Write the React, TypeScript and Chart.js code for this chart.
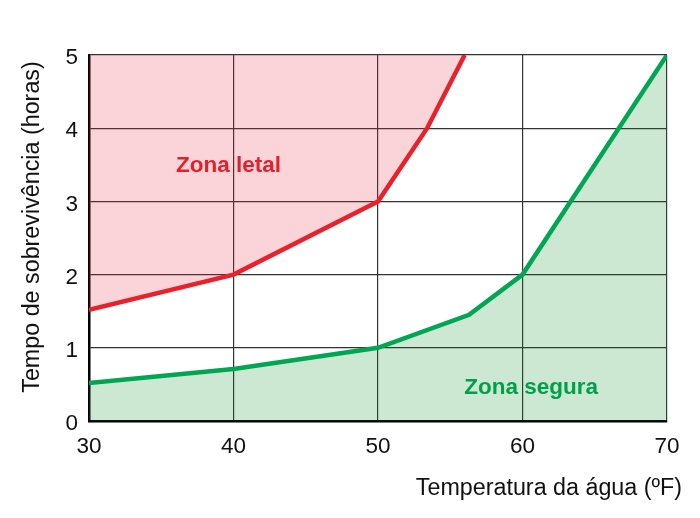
import React, { useEffect, useRef } from "react";
import { Chart, registerables, Plugin } from "chart.js";

Chart.register(...registerables);

// lethal zone boundary (red)
const lethalTemps = [30, 40, 50, 53.4, 56];
const lethalHours = [1.52, 2.0, 3.0, 4.0, 5.0];

// safe zone boundary (green)
const safeTemps = [30, 40, 50, 56.3, 60, 70];
const safeHours = [0.52, 0.71, 1.0, 1.45, 2.0, 5.0];

const xTicks = [30, 40, 50, 60, 70];
const yTicks = [0, 1, 2, 3, 4, 5];

const xTitle = "Temperatura da água (ºF)";
const yTitle = "Tempo de sobrevivência (horas)";

// zone labels, placed in data units
const zoneLabels = [
  { text: "Zona letal", x: 39.65, y: 3.48, color: "#e5202a" },
  { text: "Zona segura", x: 60.6, y: 0.46, color: "#00a04a" },
];

const FONT = '"Liberation Sans", Arial, sans-serif';

const textPlugin: Plugin = {
  id: "texts",
  afterDatasetsDraw(chart) {
    const { ctx, scales } = chart;
    const xs = scales.x;
    const ys = scales.y;
    ctx.save();
    ctx.font = `bold 22.5px ${FONT}`;
    ctx.textAlign = "center";
    ctx.textBaseline = "middle";
    zoneLabels.forEach((l) => {
      ctx.fillStyle = l.color;
      ctx.fillText(l.text, xs.getPixelForValue(l.x), ys.getPixelForValue(l.y));
    });
    ctx.restore();
  },
  afterDraw(chart) {
    const { ctx } = chart;
    ctx.save();
    ctx.fillStyle = "#111";
    ctx.font = `23.3px ${FONT}`;
    ctx.textAlign = "right";
    ctx.textBaseline = "alphabetic";
    ctx.fillText(xTitle, 682, 495);
    ctx.translate(39, 227);
    ctx.rotate(-Math.PI / 2);
    ctx.textAlign = "center";
    ctx.fillText(yTitle, 0, 0);
    ctx.restore();
  },
};

const SurvivalChart: React.FC = () => {
  const canvasRef = useRef<HTMLCanvasElement | null>(null);

  useEffect(() => {
    const ctx = canvasRef.current?.getContext("2d");
    if (!ctx) return;

    const chart = new Chart(ctx, {
      type: "line",
      data: {
        datasets: [
          {
            label: "Zona letal",
            data: lethalTemps.map((t, i) => ({ x: t, y: lethalHours[i] })),
            borderColor: "#e8212b",
            backgroundColor: "rgba(236, 40, 70, 0.2)",
            borderWidth: 4.5,
            borderJoinStyle: "miter",
            pointRadius: 0,
            fill: "end",
            tension: 0,
          },
          {
            label: "Zona segura",
            data: safeTemps.map((t, i) => ({ x: t, y: safeHours[i] })),
            borderColor: "#00a651",
            backgroundColor: "rgba(0, 140, 30, 0.2)",
            borderWidth: 4.5,
            borderJoinStyle: "miter",
            pointRadius: 0,
            fill: "origin",
            tension: 0,
          },
        ],
      },
      options: {
        animation: false,
        responsive: false,
        layout: { padding: { left: 0, top: 55, right: 33, bottom: 0 } },
        plugins: {
          legend: { display: false },
          tooltip: { enabled: false },
        },
        scales: {
          x: {
            type: "linear",
            min: xTicks[0],
            max: xTicks[xTicks.length - 1],
            afterBuildTicks: (scale: any) => {
              scale.ticks = xTicks.map((v) => ({ value: v }));
            },
            afterFit: (scale: any) => {
              scale.height = 97;
            },
            grid: { color: "#333", lineWidth: 1.2, drawTicks: false },
            border: { color: "#000", width: 2.5 },
            ticks: {
              padding: 12,
              color: "#111",
              font: { family: FONT, size: 22.5 },
            },
          },
          y: {
            type: "linear",
            min: yTicks[0],
            max: yTicks[yTicks.length - 1],
            afterBuildTicks: (scale: any) => {
              scale.ticks = yTicks.map((v) => ({ value: v }));
            },
            afterFit: (scale: any) => {
              scale.width = 89;
            },
            grid: { color: "#333", lineWidth: 1.2, drawTicks: false },
            border: { color: "#000", width: 2.5 },
            ticks: {
              padding: 11,
              labelOffset: 3,
              color: "#111",
              font: { family: FONT, size: 22.5 },
            },
          },
        },
      },
      plugins: [textPlugin],
    });

    return () => {
      chart.destroy();
    };
  }, []);

  return (
    <div style={{ position: "fixed", left: 0, top: 0, width: 700, height: 518, background: "#fff" }}>
      <canvas ref={canvasRef} width={700} height={518} />
    </div>
  );
};

export default function App() {
  return <SurvivalChart />;
}
